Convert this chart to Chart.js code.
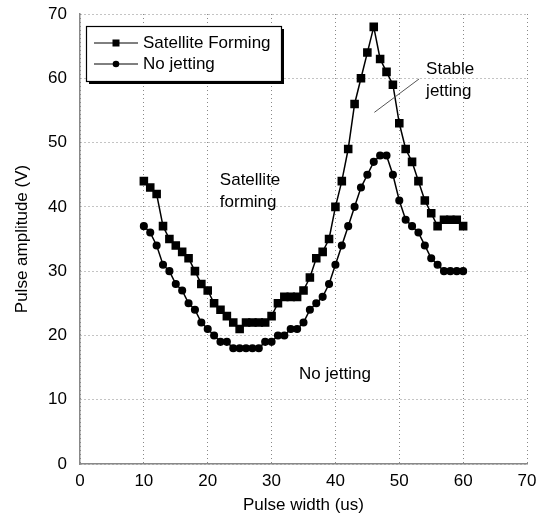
<!DOCTYPE html>
<html>
<head>
<meta charset="utf-8">
<script src="https://cdn.jsdelivr.net/npm/chart.js@4.4.0/dist/chart.umd.min.js"></script>
<style>
  html, body { margin: 0; padding: 0; background: #fff; }
</style>
</head>
<body>
<canvas id="chart" width="549" height="528"></canvas>
<script>
const pulseWidth = [10, 11, 12, 13, 14, 15, 16, 17, 18, 19, 20, 21, 22, 23, 24, 25, 26, 27, 28, 29, 30,
  31, 32, 33, 34, 35, 36, 37, 38, 39, 40, 41, 42, 43, 44, 45, 46, 47, 48, 49, 50,
  51, 52, 53, 54, 55, 56, 57, 58, 59, 60];
const satelliteForming = [44, 43, 42, 37, 35, 34, 33, 32, 30, 28, 27, 25, 24, 23, 22, 21, 22, 22, 22, 22, 23,
  25, 26, 26, 26, 27, 29, 32, 33, 35, 40, 44, 49, 56, 60, 64, 68, 63, 61, 59, 53,
  49, 47, 44, 41, 39, 37, 38, 38, 38, 37];
const noJetting = [37, 36, 34, 31, 30, 28, 27, 25, 24, 22, 21, 20, 19, 19, 18, 18, 18, 18, 18, 19, 19,
  20, 20, 21, 21, 22, 24, 25, 26, 28, 31, 34, 37, 40, 43, 45, 47, 48, 48, 45, 41,
  38, 37, 36, 34, 32, 31, 30, 30, 30, 30];
const seriesNames = ["Satellite Forming", "No jetting"];
const xTicks = [0, 10, 20, 30, 40, 50, 60, 70];
const yTicks = [0, 10, 20, 30, 40, 50, 60, 70];

const FONT = '"Liberation Sans", Arial, sans-serif';
const FS = 17;

// region labels, placed in data units
const notes = [
  { lines: ["Satellite", "forming"], x: 21.9, y: 44.1 },
  { lines: ["Stable", "jetting"], x: 54.2, y: 61.4 },
  { lines: ["No jetting"], x: 34.3, y: 14.0 }
];
const pointerLine = { x1: 53.1, y1: 59.9, x2: 46.1, y2: 54.7 };

function toPoints(ys) {
  return pulseWidth.map((x, i) => ({ x: x, y: ys[i] }));
}

const overlay = {
  id: "overlay",
  afterDatasetsDraw(chart) {
    const ctx = chart.ctx;
    const xs = chart.scales.x, ys = chart.scales.y;
    ctx.save();

    // text notes
    ctx.fillStyle = "#000";
    ctx.font = FS + "px " + FONT;
    ctx.textBaseline = "middle";
    ctx.textAlign = "left";
    notes.forEach(n => {
      n.lines.forEach((t, i) => {
        ctx.fillText(t, xs.getPixelForValue(n.x), ys.getPixelForValue(n.y) + i * 22);
      });
    });

    ctx.strokeStyle = "#555";
    ctx.lineWidth = 1;
    ctx.beginPath();
    ctx.moveTo(xs.getPixelForValue(pointerLine.x1), ys.getPixelForValue(pointerLine.y1));
    ctx.lineTo(xs.getPixelForValue(pointerLine.x2), ys.getPixelForValue(pointerLine.y2));
    ctx.stroke();

    // legend box with shadow
    const bx = 86, by = 26, bw = 195, bh = 55;
    ctx.fillStyle = "#000";
    ctx.fillRect(bx + 3, by + 3, bw, bh);
    ctx.fillStyle = "#fff";
    ctx.fillRect(bx, by, bw, bh);
    ctx.strokeStyle = "#000";
    ctx.lineWidth = 1.2;
    ctx.strokeRect(bx + 0.5, by + 0.5, bw, bh);

    chart.data.datasets.forEach((ds, i) => {
      const ly = by + 17 + i * 21;
      ctx.strokeStyle = "#000";
      ctx.lineWidth = 1;
      ctx.beginPath();
      ctx.moveTo(94, ly);
      ctx.lineTo(138, ly);
      ctx.stroke();
      ctx.fillStyle = "#000";
      if (ds.pointStyle === "rect") {
        ctx.fillRect(116 - 3.5, ly - 3.5, 7, 7);
      } else {
        ctx.beginPath();
        ctx.arc(116, ly, 3.3, 0, Math.PI * 2);
        ctx.fill();
      }
      ctx.font = FS + "px " + FONT;
      ctx.textBaseline = "middle";
      ctx.fillText(ds.label, 143, ly);
    });
    ctx.restore();
  }
};

new Chart(document.getElementById("chart"), {
  type: "line",
  data: {
    datasets: [
      {
        label: seriesNames[0],
        data: toPoints(satelliteForming),
        borderColor: "#000",
        backgroundColor: "#000",
        borderWidth: 1.5,
        pointStyle: "rect",
        pointRadius: 5,
        tension: 0
      },
      {
        label: seriesNames[1],
        data: toPoints(noJetting),
        borderColor: "#000",
        backgroundColor: "#000",
        borderWidth: 1.5,
        pointStyle: "circle",
        pointRadius: 3.3,
        tension: 0
      }
    ]
  },
  options: {
    responsive: false,
    animation: false,
    layout: { padding: { left: 0, top: 14, right: 22, bottom: 0 } },
    plugins: {
      legend: { display: false },
      tooltip: { enabled: false }
    },
    scales: {
      x: {
        type: "linear",
        min: xTicks[0],
        max: xTicks[xTicks.length - 1],
        afterBuildTicks: s => { s.ticks = xTicks.map(v => ({ value: v })); },
        afterFit: s => { s.height = 64; s.paddingLeft = 0; s.paddingRight = 0; },
        grid: { color: "#888", lineWidth: 1, drawTicks: false },
        border: { display: true, color: "#888", width: 1.5, dash: [1, 3] },
        ticks: { color: "#000", font: { family: FONT, size: FS }, padding: 7, maxRotation: 0 },
        title: { display: true, text: "Pulse width (us)", color: "#000", font: { family: FONT, size: FS }, padding: { top: 0, bottom: 12 } }
      },
      y: {
        type: "linear",
        min: yTicks[0],
        max: yTicks[yTicks.length - 1],
        afterBuildTicks: s => { s.ticks = yTicks.map(v => ({ value: v })); },
        afterFit: s => { s.width = 80; s.paddingTop = 0; s.paddingBottom = 0; },
        grid: { color: "#888", lineWidth: 1, drawTicks: false },
        border: { display: true, color: "#888", width: 1.5, dash: [1, 3] },
        ticks: { color: "#000", font: { family: FONT, size: FS }, padding: 13 },
        title: { display: true, text: "Pulse amplitude (V)", color: "#000", font: { family: FONT, size: FS }, padding: { top: 12, bottom: 0 } }
      }
    }
  },
  plugins: [overlay]
});
</script>
</body>
</html>
